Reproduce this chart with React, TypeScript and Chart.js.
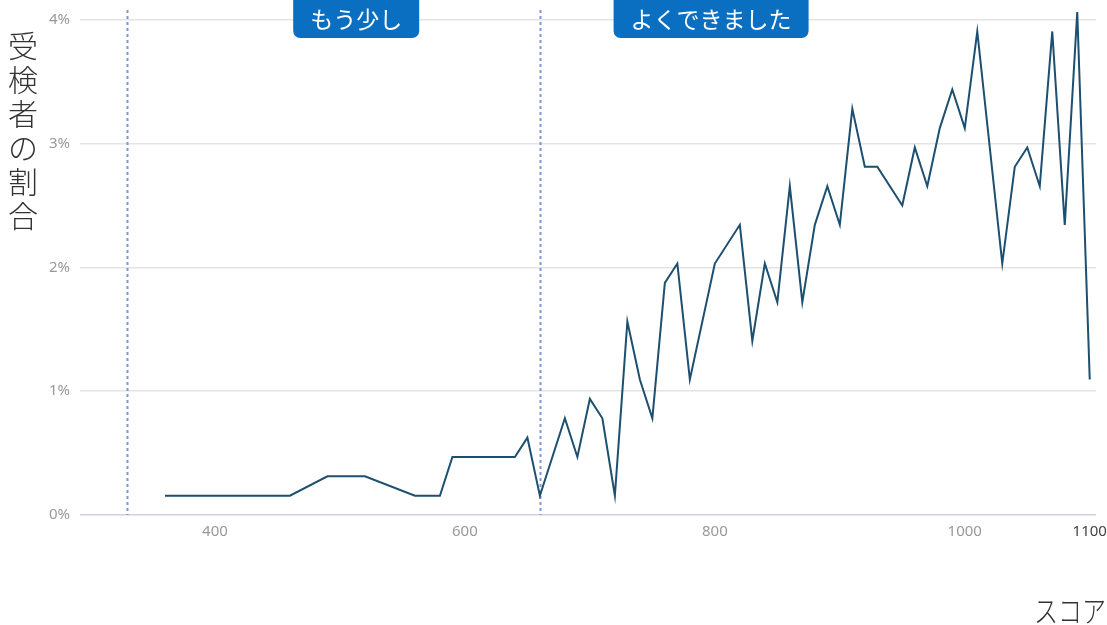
import React, { useEffect, useRef } from "react";
import { Chart, registerables } from "chart.js";

Chart.register(...registerables);

// ---- data ----
const scores = [
  360, 460, 490, 520, 560, 580, 590, 640, 650, 660,
  680, 690, 700, 710, 720, 730, 740, 750, 760, 770,
  780, 800, 820, 830, 840, 850, 860, 870, 880, 890,
  900, 910, 920, 930, 950, 960, 970, 980, 990, 1000,
  1010, 1030, 1040, 1050, 1060, 1070, 1080, 1090, 1100,
];
const shares = [
  0.156, 0.156, 0.3125, 0.3125, 0.156, 0.156, 0.469, 0.469, 0.625, 0.156,
  0.781, 0.469, 0.938, 0.781, 0.156, 1.5625, 1.094, 0.781, 1.875, 2.031,
  1.094, 2.031, 2.344, 1.406, 2.031, 1.719, 2.656, 1.719, 2.344, 2.656,
  2.344, 3.281, 2.8125, 2.8125, 2.5, 2.969, 2.656, 3.125, 3.4375, 3.125,
  3.906, 2.031, 2.8125, 2.969, 2.656, 3.906, 2.344, 4.0625, 1.094,
];
const xTicks = [400, 600, 800, 1000, 1100];
const yTicks = [0, 1, 2, 3, 4];
const thresholds = [330, 660];
const bandLabels = ["もう少し", "よくできました"];
const bandLabelScores = [513, 797];
const yTitle = "受検者の割合";
const xTitle = "スコア";

const CJK = '"Noto Sans CJK JP", "Noto Sans", sans-serif';
const LAT = '"Noto Sans", "Open Sans", sans-serif';

const annotations = {
  id: "annotations",
  beforeDatasetsDraw(chart: any) {
    const { ctx, chartArea, scales } = chart;
    ctx.save();
    ctx.strokeStyle = "#8094d6";
    ctx.lineWidth = 2;
    ctx.setLineDash([3, 3]);
    thresholds.forEach((t) => {
      const x = Math.round(scales.x.getPixelForValue(t)) + 0.5;
      ctx.beginPath();
      ctx.moveTo(x, 10);
      ctx.lineTo(x, chartArea.bottom);
      ctx.stroke();
    });
    ctx.restore();
  },
  afterDraw(chart: any) {
    const { ctx, scales, width, height } = chart;
    ctx.save();
    // band labels
    ctx.font = `23px ${CJK}`;
    ctx.textAlign = "center";
    ctx.textBaseline = "middle";
    bandLabels.forEach((lab, i) => {
      const cx = scales.x.getPixelForValue(bandLabelScores[i]);
      const w = ctx.measureText(lab).width + 34;
      const x0 = cx - w / 2;
      const y0 = -8;
      const h = 46;
      ctx.fillStyle = "#0b6fc1";
      ctx.beginPath();
      (ctx as any).roundRect(x0, y0, w, h, 7);
      ctx.fill();
      ctx.fillStyle = "#ffffff";
      ctx.fillText(lab, cx, 19);
    });
    // y title (stacked vertical)
    ctx.fillStyle = "#333333";
    ctx.font = `300 30px ${CJK}`;
    Array.from(yTitle).forEach((ch, i) => {
      ctx.fillText(ch, 23, 46 + i * 34);
    });
    // x title (narrow, right-aligned)
    ctx.textAlign = "right";
    ctx.font = `300 30px ${CJK}`;
    ctx.translate(width - 1, height - 14);
    ctx.scale(0.8, 1);
    ctx.fillText(xTitle, 0, 0);
    ctx.restore();
  },
};

export default function App() {
  const ref = useRef<HTMLCanvasElement | null>(null);
  useEffect(() => {
    if (!ref.current) return;
    const chart = new Chart(ref.current, {
      type: "line",
      data: {
        datasets: [
          {
            data: scores.map((s, i) => ({ x: s, y: shares[i] })),
            borderColor: "#1d4f70",
            borderWidth: 2,
            pointRadius: 0,
            tension: 0,
            fill: false,
          },
        ],
      },
      options: {
        animation: false,
        responsive: true,
        maintainAspectRatio: false,
        layout: { padding: { left: 0, right: 11, top: 0, bottom: 0 } },
        plugins: { legend: { display: false }, tooltip: { enabled: false } },
        scales: {
          x: {
            type: "linear",
            min: 292,
            max: 1105,
            afterBuildTicks: (s: any) => {
              s.ticks = xTicks.map((v) => ({ value: v }));
            },
            afterFit: (s: any) => {
              s.height = 110;
              s.paddingLeft = 0;
              s.paddingRight = 0;
            },
            grid: { display: false, drawTicks: false },
            border: { display: false },
            ticks: {
              padding: 8,
              autoSkip: false,
              maxRotation: 0,
              font: { family: LAT, size: 15 },
              color: (c: any) => (c.tick && c.tick.value === 1100 ? "#444444" : "#999999"),
              callback: (v: any) => String(v),
            },
          },
          y: {
            min: 0,
            max: 4.16,
            afterBuildTicks: (s: any) => {
              s.ticks = yTicks.map((v) => ({ value: v }));
            },
            afterFit: (s: any) => {
              s.width = 80;
              s.paddingTop = 0;
              s.paddingBottom = 0;
            },
            grid: {
              drawTicks: false,
              color: (c: any) => (c.tick && c.tick.value === 0 ? "#cdd1e2" : "#e4e4e4"),
              lineWidth: 1.5,
            },
            border: { display: false },
            ticks: {
              padding: 10,
              font: { family: LAT, size: 15 },
              color: "#999999",
              callback: (v: any) => `${v}%`,
            },
          },
        },
      },
      plugins: [annotations],
    });
    return () => chart.destroy();
  }, []);
  return (
    <div style={{ position: "fixed", left: 0, top: 0, width: "1107px", height: "625px", background: "#ffffff" }}>
      <canvas ref={ref} />
    </div>
  );
}
